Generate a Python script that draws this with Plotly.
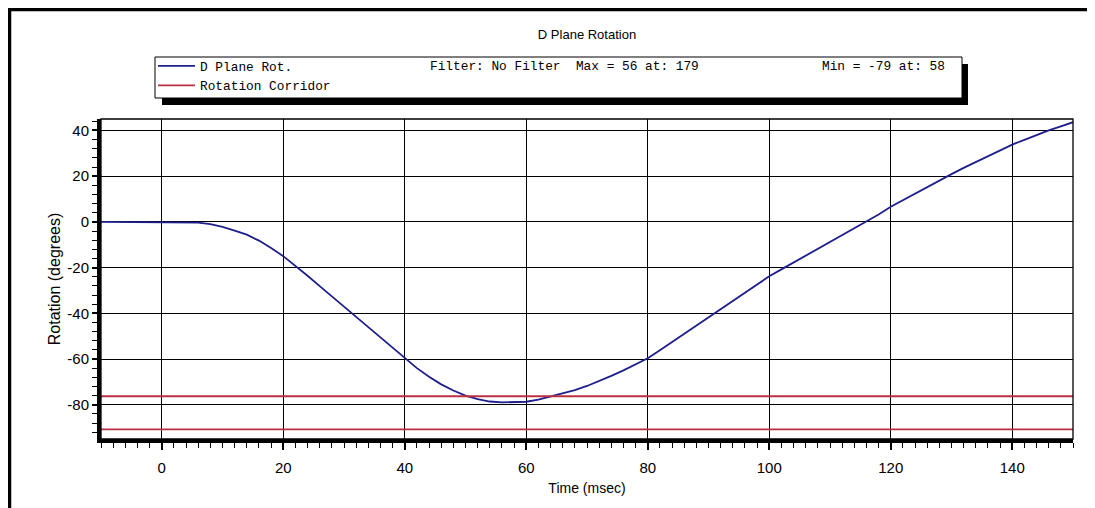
import plotly.graph_objects as go

# D plane rotation curve (time in msec, rotation in degrees)
time_ms = [-10, 0, 4, 6, 8, 10, 12, 14, 16, 18, 20, 22, 24, 26, 28, 30, 32, 34, 36, 38,
           40, 42, 44, 46, 48, 50, 52, 54, 56, 58, 60, 62, 64, 66, 68, 70, 72, 74, 76, 78,
           80, 82, 84, 86, 88, 90, 92, 94, 96, 98, 100, 102, 104, 106, 108, 110, 112, 114,
           116, 118, 120, 122, 124, 126, 128, 130, 132, 134, 136, 138, 140, 142, 144, 146,
           148, 150]
rotation = [0, 0, 0, -0.3, -1, -2.2, -3.8, -5.6, -8.2, -11.4, -15, -19.2, -23.6, -28.1,
            -32.6, -37.1, -41.6, -46.1, -50.6, -55.2, -59.8, -64, -67.8, -71.1, -73.8, -76,
            -77.6, -78.6, -79, -79, -78.7, -77.8, -76.5, -75.2, -73.6, -71.8, -69.7, -67.4,
            -65, -62.4, -59.7, -56.2, -52.6, -49.1, -45.6, -42, -38.4, -34.8, -31.2, -27.5,
            -23.8, -20.8, -17.8, -14.8, -11.8, -8.8, -5.9, -3, 0, 3.2, 6.6, 9.5, 12.4, 15.3,
            18.1, 20.9, 23.6, 26.2, 28.8, 31.3, 33.8, 35.9, 38, 40, 41.8, 43.6]

corridor_upper = -76.3
corridor_lower = -90.8
x_range = [-10, 150]
y_range = [-95, 45]
y_tick_vals = [40, 20, 0, -20, -40, -60, -80]
y_tick_text = ["40", "20", "0", "-20", "-40", "-60", "-80"]

title_text = "D Plane Rotation"
filter_text = "Filter: No Filter  Max = 56 at: 179"
min_text = "Min = -79 at: 58"

# the page puts the figure 8px in from the window corner
OFF = 8
W, H = 1095 - OFF, 508 - OFF
L, R, T, B = 101 - OFF, 22, 119 - OFF, 69
PW, PH = W - L - R, H - T - B


def px(x):
    # window pixel -> paper x
    return (x - OFF - L) / PW


def py(y):
    # window pixel -> paper y
    return (H - B - (y - OFF)) / PH


fig = go.Figure()
fig.add_trace(go.Scatter(x=time_ms, y=rotation, mode="lines", name="D Plane Rot.",
                         line=dict(color="#1e1e8c", width=1.8)))
fig.add_trace(go.Scatter(x=[x_range[0], x_range[1], None, x_range[0], x_range[1]],
                         y=[corridor_upper, corridor_upper, None, corridor_lower, corridor_lower],
                         mode="lines", name="Rotation Corridor",
                         line=dict(color="#bb3040", width=1.8)))

tick_font = dict(family="Liberation Sans, Arial, sans-serif", size=15, color="black")
fig.update_xaxes(range=x_range, tick0=0, dtick=20, showgrid=True, gridcolor="black",
                 gridwidth=1.3, zeroline=False, showline=True, linecolor="black", linewidth=4,
                 ticks="outside", ticklen=7, tickwidth=1.5, tickcolor="black",
                 ticklabelstandoff=5,
                 minor=dict(dtick=2, ticks="outside", ticklen=5, tickwidth=1.3,
                            tickcolor="black", showgrid=False),
                 tickfont=tick_font,
                 title=dict(text="Time (msec)",
                            font=dict(family="Liberation Sans, Arial", size=14, color="black"),
                            standoff=9))
fig.update_yaxes(range=y_range, tickmode="array", tickvals=y_tick_vals, ticktext=y_tick_text,
                 showgrid=True, gridcolor="black",
                 gridwidth=1.3, zeroline=False, showline=True, linecolor="black", linewidth=4,
                 ticks="outside", ticklen=5, tickwidth=1.5, tickcolor="black",
                 minor=dict(tick0=0, dtick=4, ticks="outside", ticklen=5, tickwidth=1.3,
                            tickcolor="black", showgrid=False),
                 tickfont=tick_font,
                 title=dict(text="Rotation (degrees)",
                            font=dict(family="Liberation Sans, Arial", size=16, color="black"),
                            standoff=4))

shapes = [
    # thin top/right border of the plot area
    dict(type="rect", xref="paper", yref="paper", x0=0, y0=0, x1=1, y1=1,
         line=dict(color="black", width=1.3)),
    # legend box shadow and box
    dict(type="rect", xref="paper", yref="paper", x0=px(162), x1=px(968), y0=py(105), y1=py(64),
         fillcolor="black", line=dict(width=0), layer="above"),
    dict(type="rect", xref="paper", yref="paper", x0=px(155), x1=px(962), y0=py(98), y1=py(57),
         fillcolor="white", line=dict(color="black", width=1), layer="above"),
    # outer frame (left and top)
    dict(type="line", xref="paper", yref="paper", x0=px(9.5), x1=px(9.5), y0=py(510), y1=py(8),
         line=dict(color="black", width=3.5)),
    dict(type="line", xref="paper", yref="paper", x0=px(8), x1=px(1095), y0=py(9.5), y1=py(9.5),
         line=dict(color="black", width=3.5)),
]

mono = dict(family="Liberation Mono, Courier New, monospace", size=12.8, color="black")
annotations = [
    dict(text=filter_text, xref="paper", yref="paper", x=px(428), y=py(67), xanchor="left",
         yanchor="middle", showarrow=False, font=mono),
    dict(text=min_text, xref="paper", yref="paper", x=px(820), y=py(67), xanchor="left",
         yanchor="middle", showarrow=False, font=mono),
]

fig.update_layout(
    width=W, height=H,
    margin=dict(l=L, r=R, t=T, b=B),
    paper_bgcolor="white", plot_bgcolor="white",
    title=dict(text=title_text, x=(587 - OFF) / W, xanchor="center", y=1 - (34 - OFF) / H,
               yanchor="middle",
               font=dict(family="Liberation Sans, Arial, sans-serif", size=13, color="black")),
    showlegend=True,
    legend=dict(x=px(153), y=py(51), xanchor="left", yanchor="top", font=mono,
                bgcolor="rgba(0,0,0,0)", borderwidth=0, tracegroupgap=0, itemwidth=37),
    shapes=shapes,
    annotations=annotations,
)

fig.write_html("out.html")
